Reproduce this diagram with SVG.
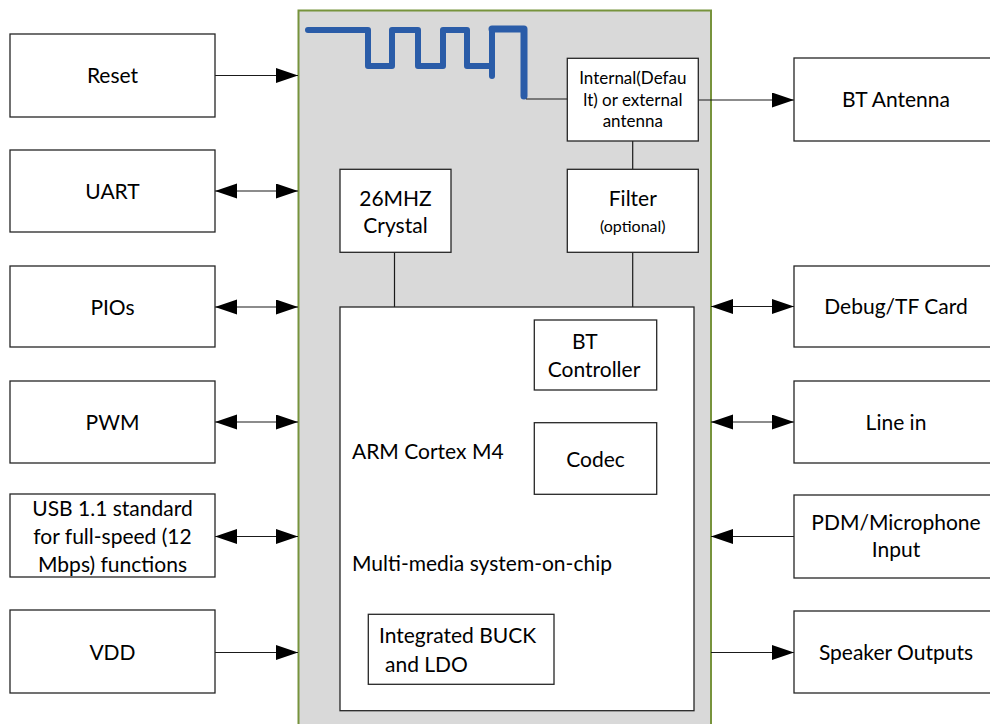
<svg xmlns="http://www.w3.org/2000/svg" width="990" height="724" viewBox="0 0 990 724">
<style>
.box{fill:#fff;stroke:#262626;stroke-width:1.3}
.t{font-family:Lato,"Liberation Sans",sans-serif;font-size:21px;fill:#000;text-anchor:middle}
.s{font-size:16px}
.a{font-size:17px}
.l{text-anchor:start}
.c{stroke:#1a1a1a;stroke-width:1.2;fill:none}
</style>
<defs>
<marker id="ah" markerUnits="userSpaceOnUse" markerWidth="24" markerHeight="16" refX="22" refY="7.5" orient="auto-start-reverse" viewBox="0 0 24 16">
<path d="M0,0 L22,7.5 L0,15 z" fill="#000"/>
</marker>
</defs>
<g id="module">
<rect x="298.5" y="10.5" width="412.5" height="730" fill="#d9d9d9" stroke="#77933c" stroke-width="2"/>
<path d="M308,30 H368 V66 H392 V30 H418 V66 H443 V30 H467 V66 H492 V30" fill="none" stroke="#2a5ca8" stroke-width="6" stroke-linecap="round" stroke-linejoin="round"/>
<path d="M492,30 V76" fill="none" stroke="#2a5ca8" stroke-width="6" stroke-linecap="round"/>
<path d="M492,29 H524 V96" fill="none" stroke="#2a5ca8" stroke-width="7" stroke-linecap="round" stroke-linejoin="round"/>
</g>
<g id="connectors">
<line class="c" x1="526" y1="99" x2="567" y2="99"/>
<line class="c" x1="632.7" y1="141" x2="632.7" y2="169"/>
<line class="c" x1="632.7" y1="252" x2="632.7" y2="307"/>
<line class="c" x1="394.5" y1="252" x2="394.5" y2="307"/>
<line class="c" x1="215" y1="75.5" x2="298" y2="75.5" marker-end="url(#ah)"/>
<line class="c" x1="215" y1="191" x2="298" y2="191" marker-start="url(#ah)" marker-end="url(#ah)"/>
<line class="c" x1="215" y1="307" x2="298" y2="307" marker-start="url(#ah)" marker-end="url(#ah)"/>
<line class="c" x1="215" y1="422" x2="298" y2="422" marker-start="url(#ah)" marker-end="url(#ah)"/>
<line class="c" x1="215" y1="536.5" x2="298" y2="536.5" marker-start="url(#ah)" marker-end="url(#ah)"/>
<line class="c" x1="215" y1="652.5" x2="298" y2="652.5" marker-end="url(#ah)"/>
<line class="c" x1="698" y1="100" x2="794" y2="100" marker-end="url(#ah)"/>
<line class="c" x1="711" y1="306.5" x2="794" y2="306.5" marker-start="url(#ah)" marker-end="url(#ah)"/>
<line class="c" x1="711" y1="422" x2="794" y2="422" marker-start="url(#ah)" marker-end="url(#ah)"/>
<line class="c" x1="794" y1="536.5" x2="711" y2="536.5" marker-end="url(#ah)"/>
<line class="c" x1="711" y1="652.5" x2="794" y2="652.5" marker-end="url(#ah)"/>
</g>
<g id="reset"><rect class="box" x="10" y="34" width="205" height="83"/><text class="t" x="112.5" y="82.5">Reset</text></g>
<g id="uart"><rect class="box" x="10" y="150" width="205" height="82"/><text class="t" x="112.5" y="198.5">UART</text></g>
<g id="pios"><rect class="box" x="10" y="266" width="205" height="81"/><text class="t" x="112.5" y="314.5">PIOs</text></g>
<g id="pwm"><rect class="box" x="10" y="381" width="205" height="82"/><text class="t" x="112.5" y="429.5">PWM</text></g>
<g id="usb"><rect class="box" x="10" y="494" width="205" height="83"/>
<text class="t" x="112.5" y="515.5">USB 1.1 standard</text>
<text class="t" x="112.5" y="544">for full-speed (12</text>
<text class="t" x="112.5" y="571.5">Mbps) functions</text></g>
<g id="vdd"><rect class="box" x="10" y="610" width="205" height="83"/><text class="t" x="112.5" y="659.5">VDD</text></g>
<g id="bt-antenna"><rect class="box" x="794" y="58" width="204" height="83"/><text class="t" x="896" y="107.3">BT Antenna</text></g>
<g id="debug-tf"><rect class="box" x="794" y="266" width="204" height="81"/><text class="t" x="896" y="313.5">Debug/TF Card</text></g>
<g id="line-in"><rect class="box" x="794" y="381" width="204" height="82"/><text class="t" x="896" y="429.5">Line in</text></g>
<g id="pdm"><rect class="box" x="794" y="495" width="204" height="83"/>
<text class="t" x="896" y="530">PDM/Microphone</text>
<text class="t" x="896" y="557.3">Input</text></g>
<g id="speaker"><rect class="box" x="794" y="611" width="204" height="82"/><text class="t" x="896" y="660">Speaker Outputs</text></g>
<g id="antenna-select"><rect class="box" x="567.3" y="58.3" width="131" height="82.7"/>
<text class="t a" x="632.8" y="84.3">Internal(Defau</text>
<text class="t a" x="632.8" y="106">lt) or external</text>
<text class="t a" x="632.8" y="126.7">antenna</text></g>
<g id="crystal"><rect class="box" x="340" y="169.3" width="111" height="83"/>
<text class="t" x="395.5" y="205.7">26MHZ</text>
<text class="t" x="395.5" y="233">Crystal</text></g>
<g id="filter"><rect class="box" x="567.3" y="169.3" width="131" height="83"/>
<text class="t" x="632.8" y="205.7">Filter</text>
<text class="t s" x="632.8" y="232">(optional)</text></g>
<g id="soc"><rect class="box" x="340" y="307" width="354" height="403.7"/>
<text class="t l" x="352" y="459">ARM Cortex M4</text>
<text class="t l" x="352" y="571">Multi-media system-on-chip</text></g>
<g id="bt-controller"><rect class="box" x="534.3" y="320" width="122.4" height="70"/>
<text class="t l" x="572" y="349.3">BT</text>
<text class="t" x="594" y="376.7">Controller</text></g>
<g id="codec"><rect class="box" x="534.3" y="422.7" width="122.4" height="71.6"/>
<text class="t" x="595.5" y="466.7">Codec</text></g>
<g id="buck-ldo"><rect class="box" x="368.3" y="614.3" width="185.7" height="70"/>
<text class="t l" x="379" y="643.3">Integrated BUCK</text>
<text class="t l" x="385" y="671.7">and LDO</text></g>
</svg>
